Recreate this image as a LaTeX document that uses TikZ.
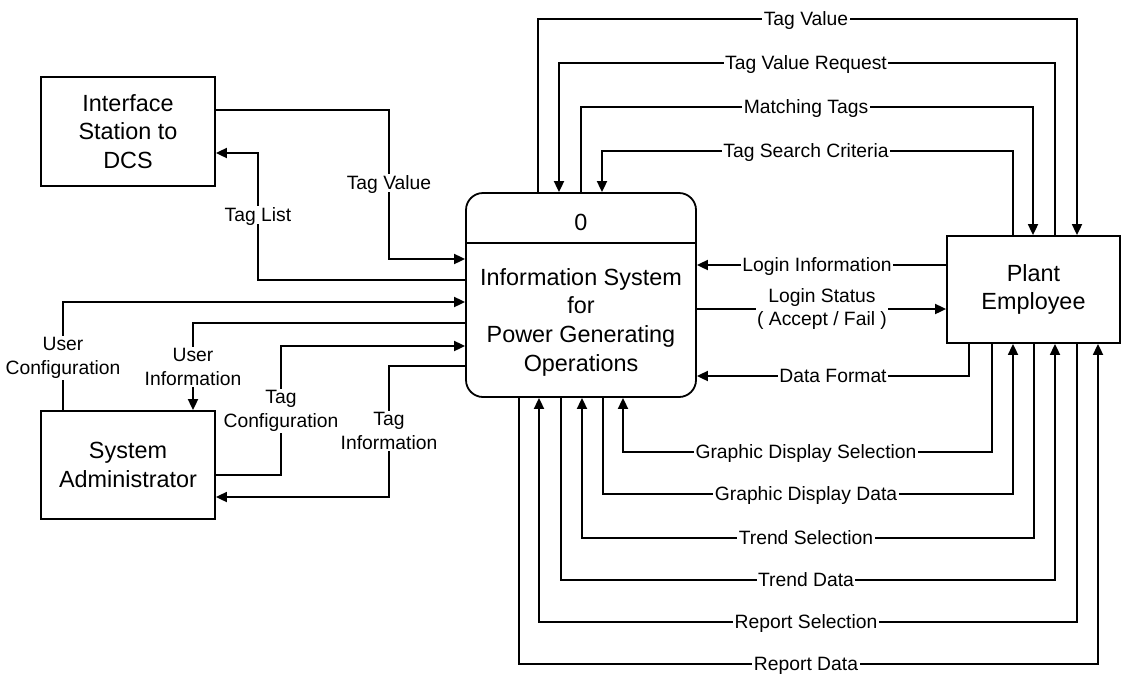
\documentclass[tikz,border=0pt]{standalone}
\usepackage{fontspec}
\setmainfont{Liberation Sans}
\usetikzlibrary{arrows.meta}
\begin{document}
\begin{tikzpicture}[x=1pt,y=-1pt,
  ent/.style={draw, line width=1.8pt, inner sep=0pt, align=center, font=\fontsize{23.4}{28.7}\selectfont},
  flow/.style={line width=1.8pt, line join=miter, -{Triangle[length=11pt,width=10pt]}},
  plainline/.style={line width=1.8pt},
  lbl/.style={fill=white, inner sep=1.5pt, font=\fontsize{19.3}{24}\selectfont, text height=13.8pt, text depth=1pt},
  mlbl/.style={fill=white, inner sep=1.5pt, align=center, font=\fontsize{19.3}{23.5}\selectfont}]
\useasboundingbox (0,0) rectangle (1122,673);

% entities and process
\node[ent, minimum width=174pt, minimum height=109pt] (dcs) at (128,131.5) {Interface\\Station to\\DCS};
\node[ent, minimum width=174pt, minimum height=108pt] (sa) at (128,465) {System\\Administrator};
\node[ent, minimum width=173pt, minimum height=107pt] (pe) at (1033.5,289.5) {Plant\\Employee};
\node[ent, rounded corners=17pt, minimum width=230pt, minimum height=204pt] (proc) at (581,295) {};
\draw[plainline] (proc.west |- 0,243) -- (proc.east |- 0,243);
\node[font=\fontsize{23.4}{28.7}\selectfont, inner sep=0pt] (pid) at (581,222) {0};
\node[font=\fontsize{23.4}{28.7}\selectfont, align=center, inner sep=0pt] (ptext) at (581,322) {Information System\\for\\Power Generating\\Operations};

% top flows
\draw[flow] (proc.north -| 538,0) |- (806,19) node[lbl](l1){Tag Value} -| (pe.north -| 1077,0);
\draw[flow] (pe.north -| 1055,0) |- (806,63) node[lbl](l2){Tag Value Request} -| (proc.north -| 559,0);
\draw[flow] (proc.north -| 581,0) |- (806,107) node[lbl](l3){Matching Tags} -| (pe.north -| 1033,0);
\draw[flow] (pe.north -| 1013,0) |- (806,151) node[lbl](l4){Tag Search Criteria} -| (proc.north -| 602,0);

% right flows
\draw[flow] (pe.west |- 0,265) -- (817,265) node[lbl](l5){Login Information} -- (proc.east |- 0,265);
\draw[flow] (proc.east |- 0,309) -- (822,309) node[mlbl](l6){Login Status\\( Accept / Fail )} -- (pe.west |- 0,309);
\draw[flow] (pe.south -| 969,0) |- (833,376) node[lbl](l7){Data Format} -- (proc.east |- 0,376);

% bottom flows
\draw[flow] (pe.south -| 992,0) |- (806,452) node[lbl](l8){Graphic Display Selection} -| (proc.south -| 623,0);
\draw[flow] (proc.south -| 603,0) |- (806,494) node[lbl](l9){Graphic Display Data} -| (pe.south -| 1013,0);
\draw[flow] (pe.south -| 1034,0) |- (806,538) node[lbl](l10){Trend Selection} -| (proc.south -| 582,0);
\draw[flow] (proc.south -| 561,0) |- (806,580) node[lbl](l11){Trend Data} -| (pe.south -| 1055,0);
\draw[flow] (pe.south -| 1077,0) |- (806,622) node[lbl](l12){Report Selection} -| (proc.south -| 539,0);
\draw[flow] (proc.south -| 519,0) |- (806,664) node[lbl](l13){Report Data} -| (pe.south -| 1098,0);

% left flows
\draw[flow] (dcs.east |- 0,110) -| (389,183) node[lbl](l14){Tag Value} |- (proc.west |- 0,259);
\draw[flow] (proc.west |- 0,280) -| (258,215) node[lbl](l15){Tag List} |- (dcs.east |- 0,153);
\draw[flow] (sa.north -| 63,0) -- (63,358) node[mlbl](l16){User\\Configuration} |- (proc.west |- 0,302);
\draw[flow] (proc.west |- 0,323) -| (193,367) node[mlbl](l17){User\\Information} -- (sa.north -| 193,0);
\draw[flow] (sa.east |- 0,475) -| (281,411) node[mlbl](l18){Tag\\Configuration} |- (proc.west |- 0,346);
\draw[flow] (proc.west |- 0,366) -| (389,431) node[mlbl](l19){Tag\\Information} |- (sa.east |- 0,497);
\end{tikzpicture}
\end{document}
